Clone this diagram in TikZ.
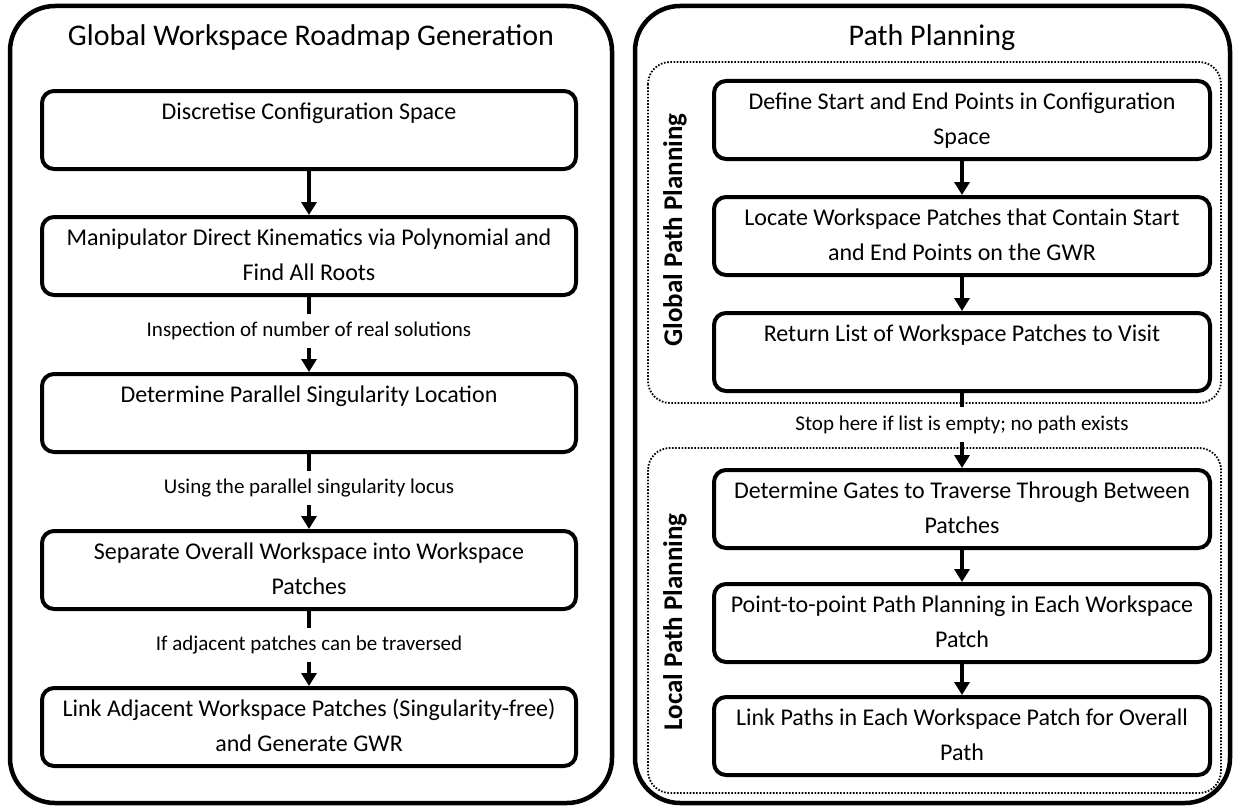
\documentclass[tikz,border=0pt]{standalone}
\usepackage{fontspec}
\setmainfont{Carlito}
\usetikzlibrary{positioning, arrows.meta}
\tikzset{
    >={Triangle[width=15pt,length=13pt]}, % solid arrow heads
    panel/.style={line width=4.5pt, rounded corners=45pt}, % the two big frames
    group/.style={line width=1.8pt, dash pattern=on 1.6pt off 1.6pt, rounded corners=22pt}, % dotted sub-frames
    block/.style={draw, line width=4pt, rounded corners=12pt, minimum height=78pt,
        inner sep=0pt, align=flush center, font=\fontsize{24}{35}\selectfont,
        execute at begin node=\strut, execute at end node=\strut},
    wide/.style={block, minimum width=534pt, text width=534pt},
    narrow/.style={block, minimum width=496pt, text width=496pt},
    title/.style={font=\fontsize{30}{34}\selectfont, inner sep=0pt},
    side/.style={font=\fontsize{27}{30}\selectfont\bfseries, inner sep=0pt, rotate=90},
    note/.style={font=\fontsize{21}{24}\selectfont, inner sep=0pt, minimum height=34pt},
    link/.style={line width=4pt},
    flow/.style={link, ->},
}

\begin{document}
\begin{tikzpicture}[x=1pt, y=-1pt]
    \useasboundingbox (0,0) rectangle (1237,808);

    % left panel: roadmap generation
    \draw[panel] (10,6) rectangle (612,803);
    \node[title] (T1) at (311,38) {Global Workspace Roadmap Generation};

    \node[wide] (B1) at (309,130) {Discretise Configuration Space\\};
    \node[wide, below=44pt of B1] (B2) {Manipulator Direct Kinematics via Polynomial and\\Find All Roots};
    \node[wide, below=75pt of B2] (B3) {Determine Parallel Singularity Location\\};
    \node[wide, below=75pt of B3] (B4) {Separate Overall Workspace into Workspace\\Patches};
    \node[wide, below=75pt of B4] (B5) {Link Adjacent Workspace Patches (Singularity-free)\\and Generate GWR};

    \path (B2) -- node[note, pos=0.45] (L1) {Inspection of number of real solutions} (B3);
    \path (B3) -- node[note, pos=0.45] (L2) {Using the parallel singularity locus} (B4);
    \path (B4) -- node[note, pos=0.45] (L3) {If adjacent patches can be traversed} (B5);

    \draw[flow] (B1) -- (B2);
    \draw[link] (B2) -- (L1);
    \draw[flow] (L1) -- (B3);
    \draw[link] (B3) -- (L2);
    \draw[flow] (L2) -- (B4);
    \draw[link] (B4) -- (L3);
    \draw[flow] (L3) -- (B5);

    % right panel: path planning
    \draw[panel] (635,6) rectangle (1230,803);
    \node[title] (T2) at (932,38) {Path Planning};
    \draw[group] (648,62) rectangle (1221,403);
    \draw[group] (648,448) rectangle (1221,793);
    \node[side] (G) at (675,230) {Global Path Planning};
    \node[side] (L) at (675,622) {Local Path Planning};

    \node[narrow] (R1) at (962,120) {Define Start and End Points in Configuration\\Space};
    \node[narrow, below=34pt of R1] (R2) {Locate Workspace Patches that Contain Start\\and End Points on the GWR};
    \node[narrow, below=34pt of R2] (R3) {Return List of Workspace Patches to Visit\\};
    \node[narrow, below=75pt of R3] (R4) {Determine Gates to Traverse Through Between\\Patches};
    \node[narrow, below=32pt of R4] (R5) {Point-to-point Path Planning in Each Workspace\\Patch};
    \node[narrow, below=31pt of R5] (R6) {Link Paths in Each Workspace Patch for Overall\\Path};

    \path (R3) -- node[note, pos=0.42] (L4) {Stop here if list is empty; no path exists} (R4);

    \draw[flow] (R1) -- (R2);
    \draw[flow] (R2) -- (R3);
    \draw[link] (R3) -- (L4);
    \draw[flow] (L4) -- (R4);
    \draw[flow] (R4) -- (R5);
    \draw[flow] (R5) -- (R6);
\end{tikzpicture}
\end{document}
